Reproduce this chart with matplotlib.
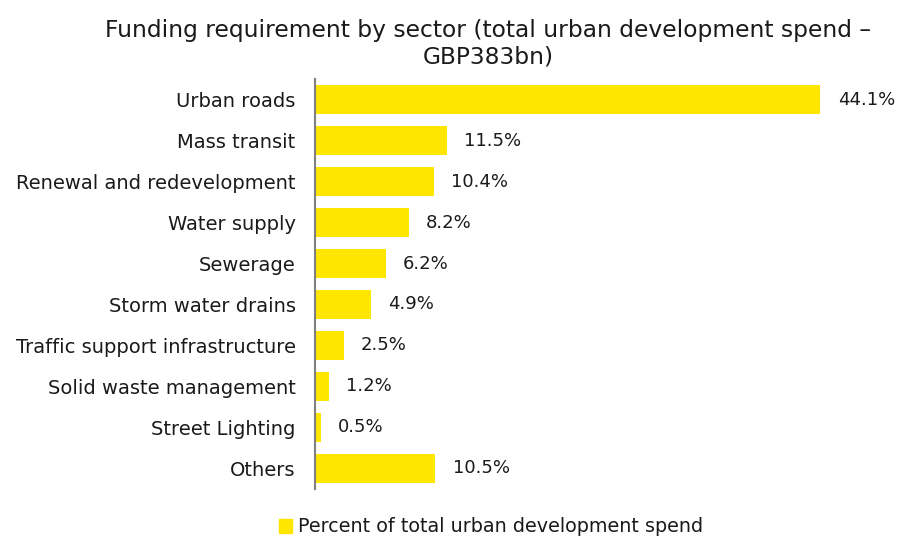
import matplotlib
matplotlib.use("Agg")
import matplotlib.pyplot as plt
from matplotlib.patches import Patch

sectors = [
    "Urban roads",
    "Mass transit",
    "Renewal and redevelopment",
    "Water supply",
    "Sewerage",
    "Storm water drains",
    "Traffic support infrastructure",
    "Solid waste management",
    "Street Lighting",
    "Others",
]
share = [44.1, 11.5, 10.4, 8.2, 6.2, 4.9, 2.5, 1.2, 0.5, 10.5]
series_name = "Percent of total urban development spend"

yellow = "#FFE600"
ink = "#1a1a1a"

plt.rcParams["font.family"] = ["DejaVu Sans"]

fig = plt.figure(figsize=(8.97, 5.37), dpi=100)
ax = fig.add_axes([315 / 897, 1 - 488.5 / 537, (888 - 315) / 897, (488.5 - 79.5) / 537])

pos = list(range(len(sectors)))
ax.barh(pos, share, height=0.71, color=yellow)
for y, v in zip(pos, share):
    ax.text(v + 1.5, y, f"{v:.1f}%", va="center", ha="left", fontsize=13, color=ink)

ax.set_ylim(len(sectors) - 0.5, -0.5)
ax.set_xlim(0, 50)
ax.set_yticks(pos)
ax.set_yticklabels(sectors, fontsize=14, color=ink)
ax.tick_params(axis="y", length=0, pad=14)
ax.set_xticks([])
for s in ["top", "right", "bottom"]:
    ax.spines[s].set_visible(False)
ax.spines["left"].set_color("#808080")
ax.spines["left"].set_linewidth(1.5)

fig.text(488 / 897, 1 - 44 / 537,
         "Funding requirement by sector (total urban development spend –\nGBP383bn)",
         ha="center", va="center", fontsize=16.8, color=ink, linespacing=1.22)

fig.legend(handles=[Patch(color=yellow, label=series_name)],
           loc="center", bbox_to_anchor=(491 / 897, 1 - 527 / 537),
           frameon=False, fontsize=13.8, handlelength=0.7, handleheight=0.7,
           handletextpad=0.3, labelcolor=ink)

fig.savefig("out.png", dpi=100)
